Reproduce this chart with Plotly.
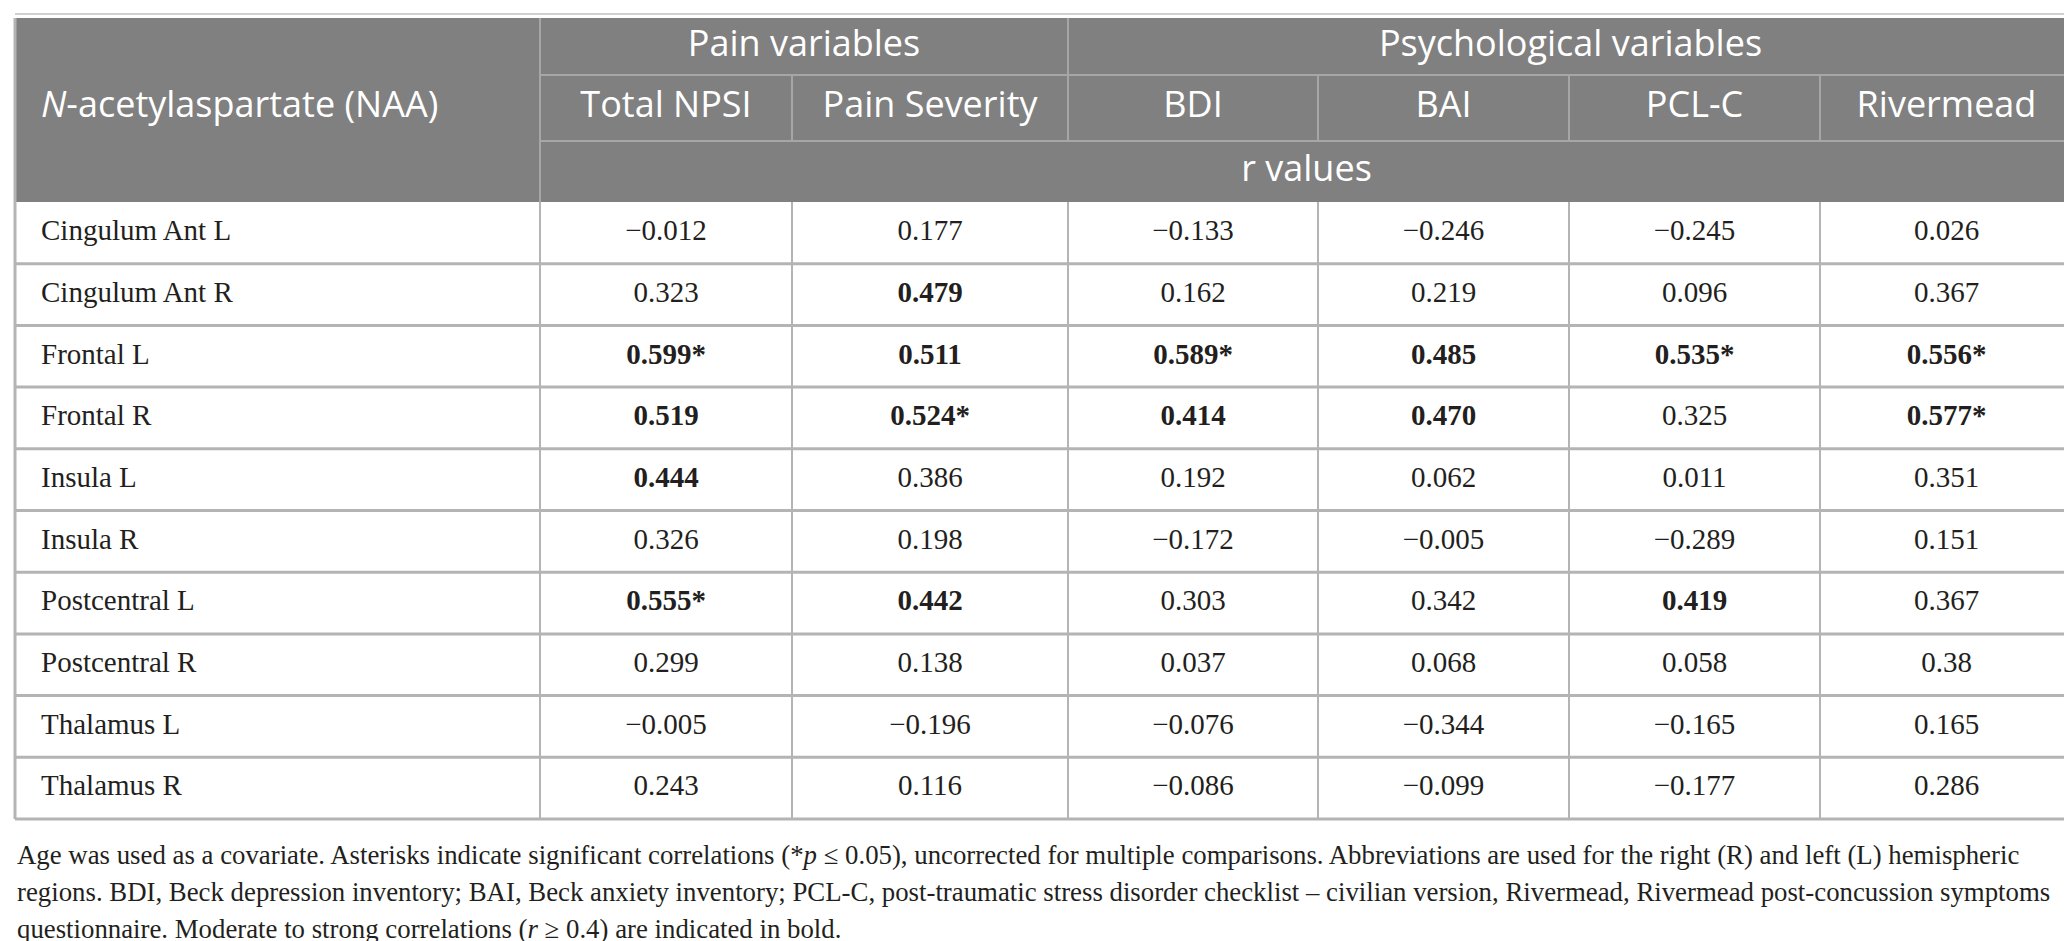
import plotly.graph_objects as go

# ---------- data ----------
regions = ["Cingulum Ant L", "Cingulum Ant R", "Frontal L", "Frontal R", "Insula L",
           "Insula R", "Postcentral L", "Postcentral R", "Thalamus L", "Thalamus R"]

pain_cols = ["Total NPSI", "Pain Severity"]
psych_cols = ["BDI", "BAI", "PCL-C", "Rivermead"]

total_npsi = ["−0.012", "0.323", "0.599*", "0.519", "0.444", "0.326", "0.555*", "0.299", "−0.005", "0.243"]
pain_severity = ["0.177", "0.479", "0.511", "0.524*", "0.386", "0.198", "0.442", "0.138", "−0.196", "0.116"]
bdi = ["−0.133", "0.162", "0.589*", "0.414", "0.192", "−0.172", "0.303", "0.037", "−0.076", "−0.086"]
bai = ["−0.246", "0.219", "0.485", "0.470", "0.062", "−0.005", "0.342", "0.068", "−0.344", "−0.099"]
pcl_c = ["−0.245", "0.096", "0.535*", "0.325", "0.011", "−0.289", "0.419", "0.058", "−0.165", "−0.177"]
rivermead = ["0.026", "0.367", "0.556*", "0.577*", "0.351", "0.151", "0.367", "0.38", "0.165", "0.286"]

columns = [total_npsi, pain_severity, bdi, bai, pcl_c, rivermead]

footnote_lines = [
    "Age was used as a covariate. Asterisks indicate significant correlations (*<i>p</i> ≤ 0.05), uncorrected for multiple comparisons. Abbreviations are used for the right (R) and left (L) hemispheric",
    "regions. BDI, Beck depression inventory; BAI, Beck anxiety inventory; PCL-C, post-traumatic stress disorder checklist – civilian version, Rivermead, Rivermead post-concussion symptoms",
    "questionnaire. Moderate to strong correlations (<i>r</i> ≥ 0.4) are indicated in bold.",
]

# ---------- layout grid (pixels) ----------
W, H = 2072, 941
col_edges = [7, 532, 784, 1060, 1310, 1561, 1812, 2065]
hdr_top, hdr_l1, hdr_l2, hdr_bot = 10, 67, 133, 194
row_h = 61.7
row_edges = [hdr_bot + i * row_h for i in range(len(regions) + 1)]
row_mid = [(row_edges[i] + row_edges[i + 1]) / 2 for i in range(len(regions))]

HDR_BG = "#808080"
HDR_LINE = "#a6a6a6"
GRID = "#b4b4b4"
TXT = "#231f20"
SANS = "Open Sans, Noto Sans, sans-serif"
SERIF = "Liberation Serif, Times New Roman, serif"


def fmt(v):
    num = float(v.rstrip("*").replace("−", "-"))
    return f"<b>{v}</b>" if num >= 0.4 else v


fig = go.Figure()

# body cells
for j, col in enumerate(columns):
    cx = (col_edges[j + 1] + col_edges[j + 2]) / 2
    fig.add_trace(go.Scatter(
        x=[cx] * len(col), y=row_mid, mode="text", text=[fmt(v) for v in col],
        textposition="middle center", textfont=dict(family=SERIF, size=29, color=TXT),
        hoverinfo="skip", showlegend=False,
    ))

# row labels
fig.add_trace(go.Scatter(
    x=[col_edges[0] + 26] * len(regions), y=row_mid, mode="text", text=regions,
    textposition="middle right", textfont=dict(family=SERIF, size=29, color=TXT),
    hoverinfo="skip", showlegend=False,
))

# header texts
hdr_x, hdr_y, hdr_t, hdr_pos = [], [], [], []
hdr_x.append(col_edges[0] + 26); hdr_y.append(100)
hdr_t.append("<i>N</i>-acetylaspartate (NAA)"); hdr_pos.append("middle right")
hdr_x.append((col_edges[1] + col_edges[3]) / 2); hdr_y.append((hdr_top + hdr_l1) / 2)
hdr_t.append("Pain variables"); hdr_pos.append("middle center")
hdr_x.append((col_edges[3] + col_edges[7]) / 2); hdr_y.append((hdr_top + hdr_l1) / 2)
hdr_t.append("Psychological variables"); hdr_pos.append("middle center")
for j, name in enumerate(pain_cols + psych_cols):
    hdr_x.append((col_edges[j + 1] + col_edges[j + 2]) / 2); hdr_y.append((hdr_l1 + hdr_l2) / 2)
    hdr_t.append(name); hdr_pos.append("middle center")
hdr_x.append((col_edges[1] + col_edges[7]) / 2); hdr_y.append((hdr_l2 + hdr_bot) / 2)
hdr_t.append("r values"); hdr_pos.append("middle center")

fig.add_trace(go.Scatter(
    x=hdr_x, y=hdr_y, mode="text", text=hdr_t, textposition=hdr_pos,
    textfont=dict(family=SANS, size=36, color="white"),
    hoverinfo="skip", showlegend=False,
))

# ---------- shapes ----------
shapes = []
# faint line above header
shapes.append(dict(type="line", x0=col_edges[0], x1=col_edges[-1] + 2, y0=6, y1=6,
                   line=dict(color="#d0d0d0", width=2)))
# header background
shapes.append(dict(type="rect", x0=col_edges[0], x1=col_edges[-1], y0=hdr_top, y1=hdr_bot,
                   fillcolor=HDR_BG, line=dict(width=0), layer="below"))
# header lines
hl = dict(color=HDR_LINE, width=2)
shapes.append(dict(type="line", x0=col_edges[1], x1=col_edges[-1], y0=hdr_l1, y1=hdr_l1, line=hl))
shapes.append(dict(type="line", x0=col_edges[1], x1=col_edges[-1], y0=hdr_l2, y1=hdr_l2, line=hl))
shapes.append(dict(type="line", x0=col_edges[1], x1=col_edges[1], y0=hdr_top, y1=hdr_bot, line=hl))
shapes.append(dict(type="line", x0=col_edges[3], x1=col_edges[3], y0=hdr_top, y1=hdr_l2, line=hl))
for k in [2, 4, 5, 6]:
    shapes.append(dict(type="line", x0=col_edges[k], x1=col_edges[k], y0=hdr_l1, y1=hdr_l2, line=hl))
shapes.append(dict(type="line", x0=col_edges[-1], x1=col_edges[-1], y0=hdr_top, y1=hdr_bot, line=hl))
# body grid
for y in row_edges[1:]:
    shapes.append(dict(type="line", x0=col_edges[0], x1=col_edges[-1], y0=y, y1=y,
                       line=dict(color=GRID, width=3)))
for x in col_edges:
    w = 3 if x in (col_edges[0], col_edges[-1]) else 2
    shapes.append(dict(type="line", x0=x, x1=x, y0=hdr_bot, y1=row_edges[-1],
                       line=dict(color=GRID, width=w)))
shapes.append(dict(type="line", x0=col_edges[0], x1=col_edges[0], y0=hdr_top, y1=hdr_bot,
                   line=dict(color=GRID, width=3)))

# ---------- footnote ----------
annotations = []
for i, line in enumerate(footnote_lines):
    annotations.append(dict(
        x=col_edges[0], y=847 + i * 37, xref="x", yref="y", text=line,
        showarrow=False, xanchor="left", yanchor="middle", align="left",
        font=dict(family=SERIF, size=26.8, color=TXT),
    ))

fig.update_layout(
    width=W, height=H, margin=dict(l=0, r=0, t=0, b=0),
    paper_bgcolor="white", plot_bgcolor="white",
    xaxis=dict(range=[0, W], visible=False, fixedrange=True),
    yaxis=dict(range=[H, 0], visible=False, fixedrange=True),
    shapes=shapes, annotations=annotations,
)

fig.write_html("out.html")
